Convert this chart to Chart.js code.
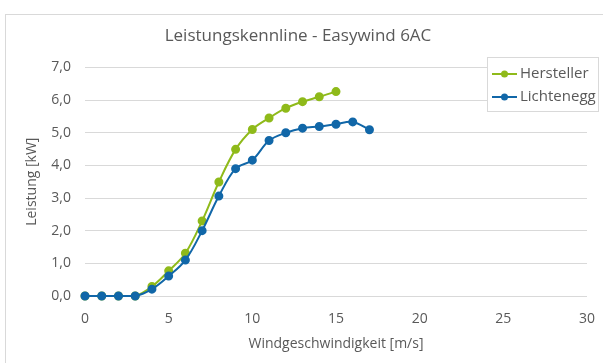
<!DOCTYPE html>
<html><head><meta charset="utf-8">
<script src="https://cdn.jsdelivr.net/npm/chart.js@4/dist/chart.umd.min.js"></script>
<style>
html,body{margin:0;padding:0;background:#fff;overflow:hidden}
#wrap{position:relative;width:603px;height:363px}
#frame{position:absolute;left:5px;top:14px;width:640px;height:420px;border:1px solid #d9d9d9;box-sizing:border-box}
canvas{position:absolute;left:0;top:0}
</style></head>
<body><div id="wrap"><div id="frame"></div><canvas id="c" width="603" height="363"></canvas></div>
<script>
const windSpeed = [0,1,2,3,4,5,6,7,8,9,10,11,12,13,14,15,16,17];
const hersteller = [0,0,0,0,0.29,0.77,1.31,2.30,3.49,4.49,5.10,5.45,5.75,5.95,6.10,6.26];
const lichtenegg = [0,0,0,0,0.21,0.61,1.10,2.00,3.06,3.90,4.16,4.76,5.00,5.14,5.19,5.26,5.33,5.09];
const seriesNames = ['Hersteller','Lichtenegg'];
const seriesColors = ['#8fba1a','#1167a8'];
const titleText = 'Leistungskennline - Easywind 6AC';
const xTitle = 'Windgeschwindigkeit [m/s]';
const yTitle = 'Leistung [kW]';

const FONT = "'Open Sans', sans-serif";
const TXT = '#595959';

function pts(vals){ return vals.map((v,i)=>({x:windSpeed[i], y:v})); }

const legendPlugin = {
  id:'boxLegend',
  afterDraw(chart){
    const ctx = chart.ctx;
    const x0=487, y0=57, w=112, h=55;
    ctx.save();
    ctx.fillStyle='#fff';
    ctx.fillRect(x0,y0,w,h);
    ctx.strokeStyle='#d9d9d9';
    ctx.lineWidth=1;
    ctx.strokeRect(x0+0.5,y0+0.5,w-1,h-1);
    chart.data.datasets.forEach((ds,i)=>{
      const cy = y0 + 17 + i*23;
      ctx.strokeStyle=ds.borderColor;
      ctx.lineWidth=2;
      ctx.beginPath(); ctx.moveTo(x0+5,cy); ctx.lineTo(x0+30,cy); ctx.stroke();
      ctx.fillStyle=ds.borderColor;
      ctx.beginPath(); ctx.arc(x0+17.5,cy,3.5,0,Math.PI*2); ctx.fill();
      ctx.fillStyle=TXT;
      ctx.font="15px "+FONT;
      ctx.textBaseline='middle';
      ctx.textAlign='left';
      ctx.fillText(ds.label,x0+33,cy);
    });
    ctx.restore();
  }
};

new Chart(document.getElementById('c'),{
  type:'line',
  data:{datasets:[
    {label:seriesNames[0],data:pts(hersteller),borderColor:seriesColors[0],backgroundColor:seriesColors[0],borderWidth:2,pointRadius:3.5,pointHoverRadius:3.5,tension:0.35,fill:false,clip:false,order:2},
    {label:seriesNames[1],data:pts(lichtenegg),borderColor:seriesColors[1],backgroundColor:seriesColors[1],borderWidth:2,pointRadius:3.5,pointHoverRadius:3.5,tension:0.35,fill:false,clip:false,order:1}
  ]},
  options:{
    responsive:false,animation:false,
    layout:{padding:{left:9,right:16,top:0,bottom:0}},
    plugins:{
      legend:{display:false},
      tooltip:{enabled:false},
      title:{display:true,text:titleText,color:TXT,font:{family:FONT,size:17,weight:'normal'},padding:{top:26,bottom:21}}
    },
    scales:{
      x:{type:'linear',min:0,max:30,
        ticks:{stepSize:5,color:TXT,font:{family:FONT,size:14},padding:7},
        grid:{display:false},border:{display:false},
        title:{display:true,text:xTitle,color:TXT,font:{family:FONT,size:14},padding:{top:2,bottom:11}},
        afterFit(s){s.height=67;}
      },
      y:{min:0,max:7,
        ticks:{stepSize:1,color:TXT,font:{family:FONT,size:14},padding:14,callback:v=>v.toFixed(1).replace('.',',')},
        grid:{color:'#d9d9d9',lineWidth:1,drawTicks:false},border:{display:false},
        title:{display:true,text:yTitle,color:TXT,font:{family:FONT,size:14},padding:{top:15,bottom:4}},
        afterFit(s){s.width=76;}
      }
    }
  },
  plugins:[legendPlugin]
});
</script></body></html>
